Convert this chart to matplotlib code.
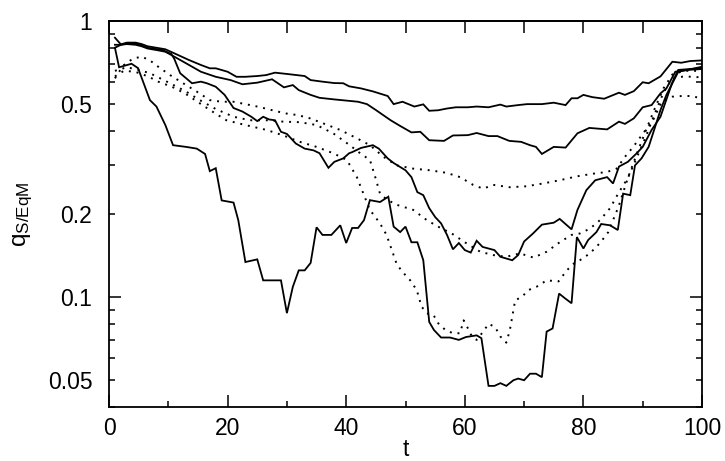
import matplotlib
matplotlib.use("Agg")
import matplotlib.pyplot as plt
from matplotlib.ticker import FixedLocator, FuncFormatter

plt.rcParams['font.family'] = ['Liberation Sans', 'DejaVu Sans']
plt.rcParams['mathtext.default'] = 'regular'

# ---- data (t, q) ----
S1 = [(1,0.87),(2,0.823),(3,0.835),(4.5,0.835),(5.5,0.825),(6.5,0.81),(8,0.80),(9.5,0.79),(11,0.764),
      (13.5,0.722),(15.5,0.693),(17,0.674),(18,0.674),(20,0.655),(21.5,0.628),(23,0.628),(25,0.632),
      (26.5,0.637),(28,0.65),(30,0.643),(33,0.632),(34,0.611),(36,0.603),(38,0.596),(39.5,0.595),
      (40.5,0.58),(42.5,0.57),(44.5,0.556),(47,0.535),(48,0.50),(49.5,0.51),(51.5,0.49),(53,0.499),
      (54,0.473),(55.5,0.475),(57,0.482),(58.5,0.487),(60.5,0.487),(62,0.49),(64,0.487),(66,0.498),
      (67,0.49),(69,0.496),(70.5,0.50),(73,0.50),(75,0.506),(77,0.496),(78,0.525),(79,0.525),(80,0.54),
      (81.5,0.53),(83.5,0.523),(86,0.55),(87,0.54),(88.5,0.557),(90,0.60),(91,0.595),(93,0.63),
      (95,0.712),(96.5,0.706),(98,0.716),(100,0.72)]
S2 = [(1,0.80),(2,0.82),(3,0.825),(4.5,0.82),(5.5,0.81),(6.5,0.795),(8,0.785),(9.5,0.774),(11,0.743),
      (13.5,0.693),(15.5,0.655),(18,0.628),(20.5,0.611),(22.5,0.59),(25,0.598),(27.5,0.615),(29.5,0.575),
      (31,0.586),(32,0.562),(34,0.54),(35.5,0.527),(38,0.52),(40,0.515),(42,0.51),(43.5,0.50),(45,0.476),
      (47.5,0.437),(49,0.418),(51,0.395),(52.5,0.397),(54,0.37),(56.5,0.368),(58,0.385),(60.5,0.386),
      (62,0.393),(64,0.383),(65.5,0.383),(67.5,0.368),(69.5,0.365),(71,0.355),(72,0.35),(73,0.33),
      (75,0.35),(77,0.348),(79,0.392),(81,0.41),(84,0.405),(86,0.432),(87,0.424),(88.5,0.444),(90,0.487),
      (91.5,0.496),(93,0.547),(94,0.57),(95.5,0.655),(97.5,0.665),(100,0.683)]
S3 = [(1,0.82),(2,0.82),(3,0.83),(4.5,0.83),(5.5,0.815),(6.5,0.80),(9,0.785),(10.5,0.76),(11,0.73),
      (12,0.647),(14,0.595),(15.5,0.603),(16.5,0.595),(18,0.578),(19.5,0.54),(21,0.484),(22.5,0.47),
      (24,0.45),(25,0.434),(26,0.45),(27,0.44),(28,0.437),(29,0.397),(30,0.39),(31.5,0.36),(33,0.345),
      (34.5,0.34),(35.5,0.332),(37,0.294),(38,0.309),(39.5,0.318),(40.5,0.332),(41,0.335),(42.5,0.347),
      (44.5,0.355),(45.5,0.345),(47,0.318),(48,0.306),(50,0.288),(51,0.272),(52,0.24),(53,0.234),
      (54,0.21),(55,0.195),(56,0.185),(57,0.168),(58,0.149),(59,0.157),(60,0.148),(61,0.145),(62,0.16),
      (63,0.152),(65,0.148),(66,0.14),(68,0.136),(69,0.142),(70,0.159),(71.5,0.17),(73,0.183),(75,0.186),
      (76,0.192),(78,0.176),(79,0.207),(80.5,0.244),(82,0.265),(84,0.272),(85,0.258),(86,0.297),
      (87.5,0.309),(89,0.332),(90,0.35),(91.5,0.403),(93,0.45),(94,0.52),(95,0.60),(96,0.665),
      (98,0.67),(100,0.675)]
S4 = [(1,0.80),(1.7,0.68),(3.8,0.70),(4.9,0.675),(6.9,0.517),(8,0.49),(9.5,0.42),(10.8,0.355),(13,0.35),
      (14.8,0.345),(16.2,0.33),(17,0.286),(18,0.293),(19,0.224),(21,0.22),(21.8,0.19),(23,0.134),
      (25,0.137),(26,0.115),(29,0.115),(30,0.0875),(31,0.109),(32,0.125),(33,0.125),(34,0.133),
      (35,0.179),(36,0.168),(37.5,0.168),(39,0.182),(40,0.157),(41,0.178),(42,0.178),(43,0.19),
      (44,0.2245),(45.7,0.221),(47.1,0.231),(48,0.18),(49.1,0.172),(50,0.18),(51,0.158),(52,0.158),
      (53,0.136),(54,0.0813),(54.8,0.076),(56,0.0714),(57.5,0.0714),(59,0.070),(60.2,0.0717),
      (62,0.0727),(62.8,0.071),(64,0.0477),(65,0.0477),(66,0.0488),(67,0.0477),(68.2,0.050),
      (69,0.0507),(70,0.050),(71,0.0528),(72,0.0528),(73,0.0513),(73.8,0.075),(74.8,0.077),
      (75.9,0.103),(76.9,0.099),(78,0.095),(78.9,0.165),(80,0.15),(80.8,0.161),(82.2,0.172),
      (83,0.184),(84.5,0.182),(85.8,0.175),(86.7,0.237),(87.9,0.234),(88.7,0.30),(89.8,0.318),
      (91,0.35),(92.1,0.414),(93,0.476),(94,0.54),(96,0.655),(97.5,0.665),(100,0.67)]
D1 = [(1,0.62),(2.4,0.69),(4,0.73),(5.5,0.743),(6.9,0.72),(8.3,0.683),(10.3,0.637),(12.5,0.595),
      (14.8,0.555),(17,0.517),(19,0.51),(21,0.51),(23,0.50),(25.2,0.489),(27.4,0.476),(29.7,0.463),
      (31.9,0.456),(33.9,0.444),(36.1,0.426),(39,0.403),(41.8,0.376),(44,0.355),(46.3,0.322),
      (48.5,0.30),(51.3,0.292),(54.1,0.288),(56.9,0.282),(59.2,0.272),(61.4,0.255),(63.1,0.247),
      (64.8,0.255),(67.6,0.25),(70.4,0.252),(73.2,0.258),(76,0.265),(79,0.274),(81.7,0.28),(84,0.284),
      (85.6,0.292),(87,0.322),(88.4,0.35),(90,0.39),(91.8,0.44),(93.2,0.51),(95,0.532),(96.6,0.535),
      (98,0.535),(100,0.525)]
D2 = [(1,0.66),(3,0.68),(5,0.665),(6.9,0.647),(10.3,0.595),(13,0.555),(15.3,0.517),(18,0.48),(21,0.45),
      (23.8,0.437),(26.6,0.437),(29.4,0.432),(32.2,0.43),(35,0.42),(37.8,0.392),(40.6,0.355),(42.5,0.33),
      (44,0.314),(44.9,0.272),(45.7,0.237),(46.8,0.226),(48.5,0.216),(51.3,0.207),(53.6,0.19),(55.5,0.18),
      (57.8,0.17),(60,0.158),(62.6,0.146),(64.8,0.142),(67,0.14),(69.3,0.144),(71.6,0.139),(73.8,0.146),
      (76,0.158),(78,0.168),(79.4,0.17),(81.1,0.177),(82.8,0.19),(84.5,0.21),(86,0.24),(87.5,0.27),
      (89,0.32),(90.5,0.38),(92,0.46),(93.5,0.55),(95,0.62),(97,0.63),(100,0.625)]
D3 = [(1,0.63),(2.5,0.66),(4.4,0.655),(6.6,0.63),(8.3,0.603),(10.6,0.578),(12.8,0.547),(14.5,0.517),
      (16.2,0.489),(17.9,0.463),(19.8,0.437),(23,0.42),(26.6,0.403),(29.4,0.385),(32.2,0.365),(35,0.35),
      (37.8,0.332),(40.1,0.314),(41.8,0.272),(42.9,0.237),(44,0.207),(45.7,0.185),(46.8,0.168),
      (47.7,0.148),(48.5,0.132),(49.4,0.124),(50.8,0.115),(51.9,0.106),(52.7,0.0925),(53.6,0.0873),
      (54.7,0.0863),(55.5,0.0805),(56.7,0.0761),(58,0.074),(59.2,0.074),(59.8,0.0824),(60.4,0.078),
      (61.2,0.072),(62,0.070),(63.1,0.075),(64,0.080),(65.1,0.078),(66,0.072),(67,0.0684),(67.6,0.076),
      (68.5,0.0975),(69.6,0.10),(70.7,0.106),(72.1,0.109),(73.8,0.115),(75.8,0.114),(77.2,0.125),
      (78.5,0.133),(79.4,0.136),(81.1,0.144),(82.8,0.157),(84.2,0.172),(85,0.19),(85.9,0.212),
      (87.5,0.27),(89,0.33),(90.5,0.40),(92,0.48),(93.5,0.57),(95,0.64),(97,0.66),(100,0.66)]

solid_series = [S1, S2, S3, S4]
dotted_series = [D1, D2, D3]

x_major = [0, 20, 40, 60, 80, 100]
y_labelled = [0.05, 0.1, 0.2, 0.5, 1.0]
y_minor = [0.04, 0.05, 0.06, 0.07, 0.08, 0.09, 0.2, 0.3, 0.4, 0.5, 0.6, 0.7, 0.8, 0.9, 1.0]

fig = plt.figure(figsize=(7.25, 4.61), dpi=100)
ax = fig.add_axes([109/725, 1-407/461, (702-109)/725, (407-21)/461])

for s in solid_series:
    t, v = zip(*s)
    ax.plot(t, v, color='black', lw=1.3, solid_joinstyle='miter')
for s in dotted_series:
    t, v = zip(*s)
    ax.plot(t, v, color='black', lw=1.4, linestyle=(0, (1, 3.0)), dash_capstyle='butt')

ax.set_yscale('log')
ax.set_xlim(0, 100)
ax.set_ylim(0.04, 1.0)

fs = 16.5
# x ticks
ax.set_xticks(x_major)
ax.set_xticks(range(0, 101, 10), minor=True)
ax.tick_params(axis='x', which='major', direction='in', length=8.5, width=1.1, top=False,
               labelsize=fs, pad=7)
ax.tick_params(axis='x', which='minor', direction='in', length=4.3, width=1.1, top=False)
sec = ax.secondary_xaxis('top')
sec.set_xticks(range(0, 101, 10))
sec.tick_params(direction='in', length=8.5, width=1.1, labeltop=False)
sec.spines['top'].set_linewidth(1.3)

# y ticks
ax.yaxis.set_major_locator(FixedLocator([0.1]))
ax.yaxis.set_major_formatter(FuncFormatter(lambda v, p: '0.1'))
ax.yaxis.set_minor_locator(FixedLocator(y_minor))
def fmt_minor(v, p):
    for y in y_labelled:
        if abs(v - y) < 1e-9 and y != 0.1:
            return ('%g' % y)
    return ''
ax.yaxis.set_minor_formatter(FuncFormatter(fmt_minor))
ax.tick_params(axis='y', which='major', direction='in', length=8.5, width=1.1, right=True,
               labelsize=fs, pad=12)
ax.tick_params(axis='y', which='minor', direction='in', length=4.3, width=1.1, right=True,
               labelsize=fs, pad=12)

for sp in ax.spines.values():
    sp.set_linewidth(1.3)

ax.set_xlabel('t', fontsize=fs, labelpad=-1)
ax.set_ylabel('q$_{S/EqM}$', fontsize=fs + 1, labelpad=9)

fig.savefig('out.png', dpi=100)
